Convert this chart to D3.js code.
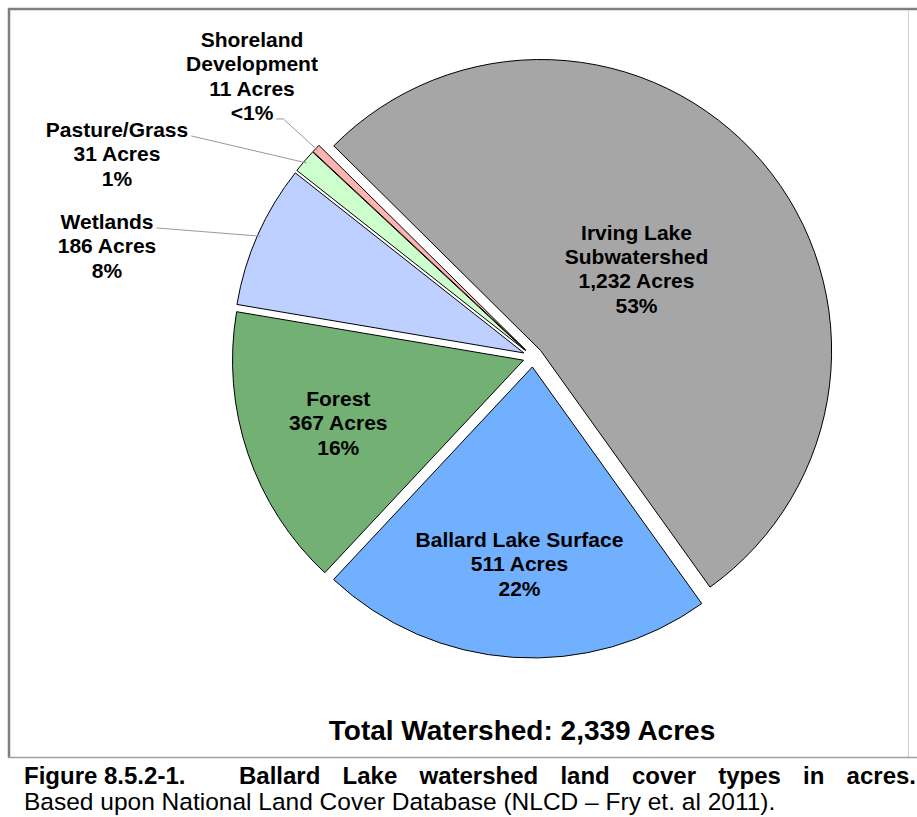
<!DOCTYPE html>
<html>
<head>
<meta charset="utf-8">
<script src="https://cdn.jsdelivr.net/npm/d3@7"></script>
<style>
  body { margin: 0; background: #fff; }
  text { font-family: "Liberation Sans", Arial, sans-serif; }
</style>
</head>
<body>
<svg width="917" height="817"></svg>
<script>
// land cover data (acres)
const categories = ["Irving Lake Subwatershed", "Ballard Lake Surface", "Forest", "Wetlands", "Pasture/Grass", "Shoreland Development"];
const acres = [1232, 511, 367, 186, 31, 11];
const nameLines = [["Irving Lake", "Subwatershed"], ["Ballard Lake Surface"], ["Forest"], ["Wetlands"], ["Pasture/Grass"], ["Shoreland", "Development"]];
const colors = ["#a6a6a6", "#71b0ff", "#72b073", "#bdd0ff", "#ccffcc", "#ffb3b3"];
// total as reported in the figure (source rounding)
const totalAcres = 2339;

const captionBold = ["Figure 8.5.2-1.", "Ballard", "Lake", "watershed", "land", "cover", "types", "in", "acres."];
const captionNote = "Based upon National Land Cover Database (NLCD \u2013 Fry et. al 2011).";

var svg = d3.select("svg");

// frame
svg.append("line").attr("x1", 8).attr("x2", 917).attr("y1", 9).attr("y2", 9)
    .attr("stroke", "#7f7f7f").attr("stroke-width", 2.5);
svg.append("line").attr("x1", 9).attr("x2", 9).attr("y1", 8).attr("y2", 758)
    .attr("stroke", "#7f7f7f").attr("stroke-width", 2.5);
svg.append("line").attr("x1", 908.5).attr("x2", 908.5).attr("y1", 10).attr("y2", 757)
    .attr("stroke", "#d0d0d0").attr("stroke-width", 1);
svg.append("line").attr("x1", 8).attr("x2", 917).attr("y1", 757.5).attr("y2", 757.5)
    .attr("stroke", "#a0a0a0").attr("stroke-width", 1.5);

// pie
const cx = 533, cy = 357, radius = 291, explode = 10;
const startA = -45.3 * Math.PI / 180;

const data = categories.map(function (c, i) {
    return {name: c, lines: nameLines[i], value: acres[i], color: colors[i]};
});

const pie = d3.pie().sort(null).value(function (d) { return d.value; })
    .startAngle(startA).endAngle(startA + 2 * Math.PI);
const arc = d3.arc().innerRadius(0).outerRadius(radius);
const arcs = pie(data);

function mid(d) { return (d.startAngle + d.endAngle) / 2; }
function dir(d) { return [Math.sin(mid(d)), -Math.cos(mid(d))]; }

let pieG = svg.append("g").attr("transform", "translate(" + cx + "," + cy + ")");

pieG.selectAll("path")
    .data(arcs)
    .enter().append("path")
    .attr("d", arc)
    .attr("transform", function (d) {
        const v = dir(d);
        return "translate(" + v[0] * explode + "," + v[1] * explode + ")";
    })
    .attr("fill", function (d) { return d.data.color; })
    .attr("stroke", "#000")
    .attr("stroke-width", 1);

// label text for each slice
function pctText(v) {
    const p = v / totalAcres * 100;
    return p < 1 ? "<1%" : Math.round(p) + "%";
}
function labelLines(d) {
    return d.data.lines.concat([d3.format(",")(d.data.value) + " Acres", pctText(d.data.value)]);
}

const fs = 21, lh = 24.4;
// inner labels: radius factor along the slice middle; outer labels: block centre + leader line
const labelLayout = [
    {rf: 0.433},
    {rf: 0.678},
    {rf: 0.672},
    {x: 107, y: 246, line: 0},
    {x: 117, y: 154, line: 0},
    {x: 252, y: 76, line: 3, elbow: 7}
];

let labelG = svg.append("g");

arcs.forEach(function (d, i) {
    const lay = labelLayout[i];
    const v = dir(d);
    let lx, ly;
    if (lay.rf) {
        lx = cx + v[0] * (explode + lay.rf * radius);
        ly = cy + v[1] * (explode + lay.rf * radius);
    } else {
        lx = lay.x;
        ly = lay.y;
    }
    const lines = labelLines(d);
    const n = lines.length;
    let text = labelG.append("text")
        .attr("text-anchor", "middle")
        .attr("font-weight", "bold")
        .attr("font-size", fs)
        .attr("fill", "#000");
    let spans = text.selectAll("tspan")
        .data(lines)
        .enter().append("tspan")
        .attr("x", lx)
        .attr("y", function (t, k) { return ly + (k - (n - 1) / 2) * lh + 0.35 * fs; })
        .text(function (t) { return t; });

    if (!lay.rf) {
        const node = spans.nodes()[lay.line];
        const w = node.getComputedTextLength();
        const sx = lx + w / 2 + 3;
        const sy = ly + (lay.line - (n - 1) / 2) * lh + 0.35 * fs - 1;
        const tr = radius + explode - 3;
        const ex = cx + v[0] * tr, ey = cy + v[1] * tr;
        const pts = [[sx, sy]];
        if (lay.elbow) pts.push([sx + lay.elbow, sy]);
        pts.push([ex, ey]);
        labelG.append("path")
            .attr("d", d3.line()(pts))
            .attr("fill", "none")
            .attr("stroke", "#9a9a9a")
            .attr("stroke-width", 1);
    }
});

// total
svg.append("text")
    .attr("x", 522).attr("y", 740)
    .attr("text-anchor", "middle")
    .attr("font-weight", "bold")
    .attr("font-size", 28)
    .text("Total Watershed: " + d3.format(",")(totalAcres) + " Acres");

// caption, first line justified
let cap = svg.append("g");
cap.append("text")
    .attr("x", 24).attr("y", 784)
    .attr("font-weight", "bold").attr("font-size", 24)
    .text(captionBold[0]);

let rest = captionBold.slice(1);
let words = rest.map(function (w) {
    return cap.append("text").attr("y", 784)
        .attr("font-weight", "bold").attr("font-size", 24)
        .text(w);
});
const widths = words.map(function (t) { return t.node().getComputedTextLength(); });
const x0 = 239, x1 = 916;
const gap = (x1 - x0 - d3.sum(widths)) / (words.length - 1);
let xx = x0;
words.forEach(function (t, i) {
    t.attr("x", xx);
    xx += widths[i] + gap;
});

cap.append("text")
    .attr("x", 24).attr("y", 810)
    .attr("font-size", 24.5)
    .text(captionNote);
</script>
</body>
</html>
